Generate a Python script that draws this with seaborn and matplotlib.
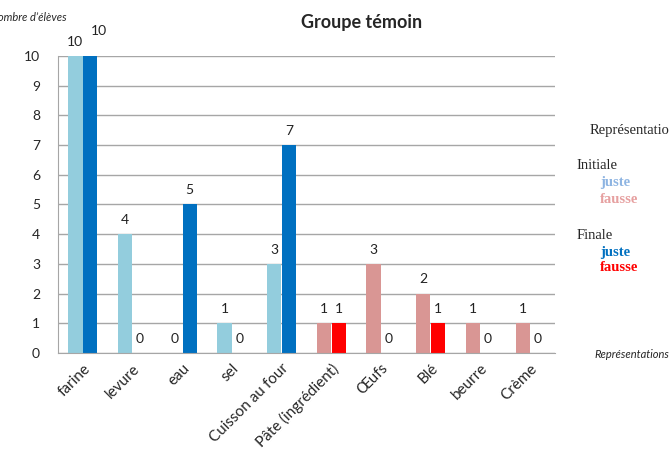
import pandas as pd
import matplotlib
matplotlib.use("Agg")
import matplotlib.pyplot as plt
import seaborn as sns

categories = ['farine', 'levure', 'eau', 'sel', 'Cuisson au four',
              'Pâte (ingrédient)', 'Œufs', 'Blé', 'beurre', 'Crème']
initiale = [10, 4, 0, 1, 3, 1, 3, 2, 1, 1]
finale = [10, 0, 5, 0, 7, 1, 0, 1, 0, 0]
# juste (True) / fausse (False) representation for each category
juste = [True, True, True, True, True, False, False, False, False, False]

phases = ['Initiale', 'Finale']
colors = {
    ('Initiale', True): '#93CDDD',
    ('Initiale', False): '#D99694',
    ('Finale', True): '#0070C0',
    ('Finale', False): '#FF0000',
}

df = pd.DataFrame({
    'categorie': categories * 2,
    'phase': ['Initiale'] * len(categories) + ['Finale'] * len(categories),
    'valeur': initiale + finale,
})

sns.set_style("white")
plt.rcParams['font.family'] = ['Lato', 'DejaVu Sans']

fig = plt.figure(figsize=(6.69, 4.55), dpi=100)
ax = fig.add_axes([0.0867, 0.2242, 0.7429, 0.6528])

sns.barplot(data=df, x='categorie', y='valeur', hue='phase', hue_order=phases,
            order=categories, ax=ax, width=0.6, gap=0.04, legend=False,
            edgecolor='none')

all_labels = []
for cont, phase in zip(ax.containers, phases):
    for bar, ok in zip(cont, juste):
        bar.set_facecolor(colors[(phase, ok)])
    all_labels.append(ax.bar_label(cont, padding=6, fontsize=10, color='#222222'))

# Excel nudged the second "10" label up and right to avoid overlap
all_labels[1][0].xyann = (6, 14)

ax.set_ylim(0, 10)
ax.set_xlim(-0.5, len(categories) - 0.5)
ax.set_yticks(range(0, 11))
ax.yaxis.grid(True, color='#A6A6A6', linewidth=1)
ax.set_axisbelow(True)
for s in ['top', 'right']:
    ax.spines[s].set_visible(False)
for s in ['left', 'bottom']:
    ax.spines[s].set_color('#A6A6A6')
ax.tick_params(axis='y', length=5, color='#A6A6A6', labelsize=10, pad=8)
ax.tick_params(axis='x', length=0, labelsize=11, pad=6)
plt.setp(ax.get_xticklabels(), rotation=45, ha='right', rotation_mode='anchor')
ax.set_xlabel('')
ax.set_ylabel('')

fig.text(0.54, 0.95, 'Groupe témoin', ha='center', va='center',
         fontsize=13, fontweight='bold')
fig.text(0.099, 0.962, "Nombre d’élèves", ha='right', va='center',
         fontsize=8, style='italic')
fig.text(1.0, 0.22, 'Représentations', ha='right', va='center',
         fontsize=8, style='italic')

serif = ['Liberation Serif', 'DejaVu Serif']
fig.text(0.882, 0.713, 'Représentations', family=serif, fontsize=10.5, va='center')
fig.text(0.862, 0.637, 'Initiale', family=serif, fontsize=10.5, va='center')
fig.text(0.897, 0.598, 'juste', family=serif, fontsize=10.5, va='center',
         fontweight='bold', color='#8DB4E2')
fig.text(0.897, 0.562, 'fausse', family=serif, fontsize=10.5, va='center',
         fontweight='bold', color='#E6A0A0')
fig.text(0.862, 0.483, 'Finale', family=serif, fontsize=10.5, va='center')
fig.text(0.897, 0.446, 'juste', family=serif, fontsize=10.5, va='center',
         fontweight='bold', color='#0070C0')
fig.text(0.897, 0.411, 'fausse', family=serif, fontsize=10.5, va='center',
         fontweight='bold', color='#FF0000')

fig.savefig('out.png', dpi=100)
